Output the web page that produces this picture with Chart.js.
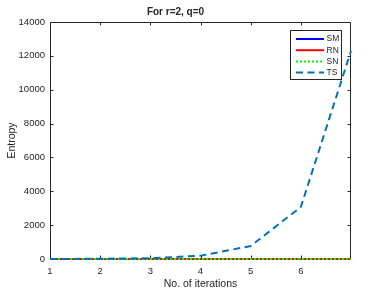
<!DOCTYPE html>
<html><head><meta charset="utf-8">
<script src="https://cdn.jsdelivr.net/npm/chart.js@4/dist/chart.umd.min.js"></script>
<style>html,body{margin:0;padding:0;background:#fff}#wrap{width:388px;height:291px;position:relative}</style>
</head><body><div id="wrap"><canvas id="c"></canvas></div>
<script>
const iterations = [1, 2, 3, 4, 5, 6, 7];
const smValues = [0, 0, 0, 0, 0, 0, 0];
const rnValues = [0, 0, 0, 0, 0, 0, 0];
const snValues = [0, 0, 0, 0, 0, 0, 0];
const tsValues = [3, 12, 48, 192, 768, 3072, 12288];
const seriesNames = ['SM', 'RN', 'SN', 'TS'];
const xTickValues = [1, 2, 3, 4, 5, 6];
const yTickValues = [0, 2000, 4000, 6000, 8000, 10000, 12000, 14000];
const titleText = 'For r=2, q=0';
const xTitle = 'No. of iterations';
const yTitle = 'Entropy';

const FONT = '"Liberation Sans", Arial, Helvetica, sans-serif';
const AX = '#262626';
const pts = vals => iterations.map((x, i) => ({x: x, y: vals[i]}));

const frame = {
  id: 'frame',
  beforeDatasetsDraw(chart) {
    const {ctx, chartArea: a, scales: {x, y}} = chart;
    ctx.save();
    ctx.strokeStyle = AX; ctx.lineWidth = 1;
    const L = Math.round(a.left) + 0.5, R = Math.round(a.right) - 0.5;
    const T = Math.round(a.top) + 0.5, B = Math.round(a.bottom) - 0.5;
    ctx.beginPath();
    ctx.rect(L, T, R - L, B - T);
    const tl = 3;
    for (const v of xTickValues) {
      const px = Math.round(x.getPixelForValue(v)) + 0.5;
      ctx.moveTo(px, B); ctx.lineTo(px, B - tl);
      ctx.moveTo(px, T); ctx.lineTo(px, T + tl);
    }
    for (const v of yTickValues) {
      const py = Math.round(y.getPixelForValue(v)) + 0.5;
      ctx.moveTo(L, py); ctx.lineTo(L + tl, py);
      ctx.moveTo(R, py); ctx.lineTo(R - tl, py);
    }
    ctx.stroke();
    ctx.restore();
  },
  afterDraw(chart) {
    const {ctx} = chart;
    ctx.save();
    ctx.strokeStyle = AX; ctx.lineWidth = 1;
    const bx = 290.5, by = 30.5, bw = 51, bh = 49;
    ctx.fillStyle = '#fff';
    ctx.fillRect(bx, by, bw, bh);
    ctx.strokeRect(bx, by, bw, bh);
    ctx.font = '8.5px ' + FONT;
    ctx.textBaseline = 'middle';
    ctx.textAlign = 'left';
    chart.data.datasets.forEach((ds, i) => {
      const yy = 39 + i * 11.2;
      ctx.save();
      ctx.strokeStyle = ds.borderColor;
      ctx.lineWidth = ds.borderWidth;
      ctx.setLineDash(ds.borderDash || []);
      ctx.beginPath();
      ctx.moveTo(296, yy); ctx.lineTo(324, yy);
      ctx.stroke();
      ctx.restore();
      ctx.fillStyle = AX;
      ctx.fillText(ds.label, 326.5, yy);
    });
    ctx.restore();
  }
};

new Chart(document.getElementById('c'), {
  type: 'line',
  data: {
    datasets: [
      {label: seriesNames[0], data: pts(smValues), borderColor: '#0000ff', borderWidth: 2, pointRadius: 0, order: 4, clip: 5},
      {label: seriesNames[1], data: pts(rnValues), borderColor: '#ff0000', borderWidth: 2, pointRadius: 0, order: 3, clip: 5},
      {label: seriesNames[2], data: pts(snValues), borderColor: '#00ff00', borderWidth: 2, borderDash: [2, 2], pointRadius: 0, order: 2, clip: 5},
      {label: seriesNames[3], data: pts(tsValues), borderColor: '#0072bd', borderWidth: 2, borderDash: [7, 4.5], pointRadius: 0, order: 1, clip: 5}
    ]
  },
  options: {
    responsive: true,
    maintainAspectRatio: false,
    animation: false,
    layout: {padding: {left: 0, right: 37, top: 0, bottom: 0}},
    plugins: {
      legend: {display: false},
      tooltip: {enabled: false},
      title: {display: true, text: titleText, color: AX, font: {family: FONT, size: 10, weight: 'bold'}, padding: {top: 6, bottom: 4}}
    },
    scales: {
      x: {
        type: 'linear', min: 1, max: 7,
        afterBuildTicks: s => { s.ticks = xTickValues.map(v => ({value: v})); },
        afterFit: s => { s.height = 32; },
        grid: {display: false, drawTicks: false},
        border: {display: false},
        ticks: {color: AX, font: {family: FONT, size: 9.5}, padding: 7, maxRotation: 0, autoSkip: false},
        title: {display: true, text: xTitle, color: AX, font: {family: FONT, size: 10.5}, padding: {top: 0, bottom: 1}}
      },
      y: {
        type: 'linear', min: 0, max: 14000,
        afterBuildTicks: s => { s.ticks = yTickValues.map(v => ({value: v})); },
        afterFit: s => { s.width = 50; },
        grid: {display: false, drawTicks: false},
        border: {display: false},
        ticks: {color: AX, font: {family: FONT, size: 9.5}, padding: 5, callback: v => String(v)},
        title: {display: true, text: yTitle, color: AX, font: {family: FONT, size: 10.5}, padding: {top: 6, bottom: 0}}
      }
    }
  },
  plugins: [frame]
});
</script>
</body></html>
